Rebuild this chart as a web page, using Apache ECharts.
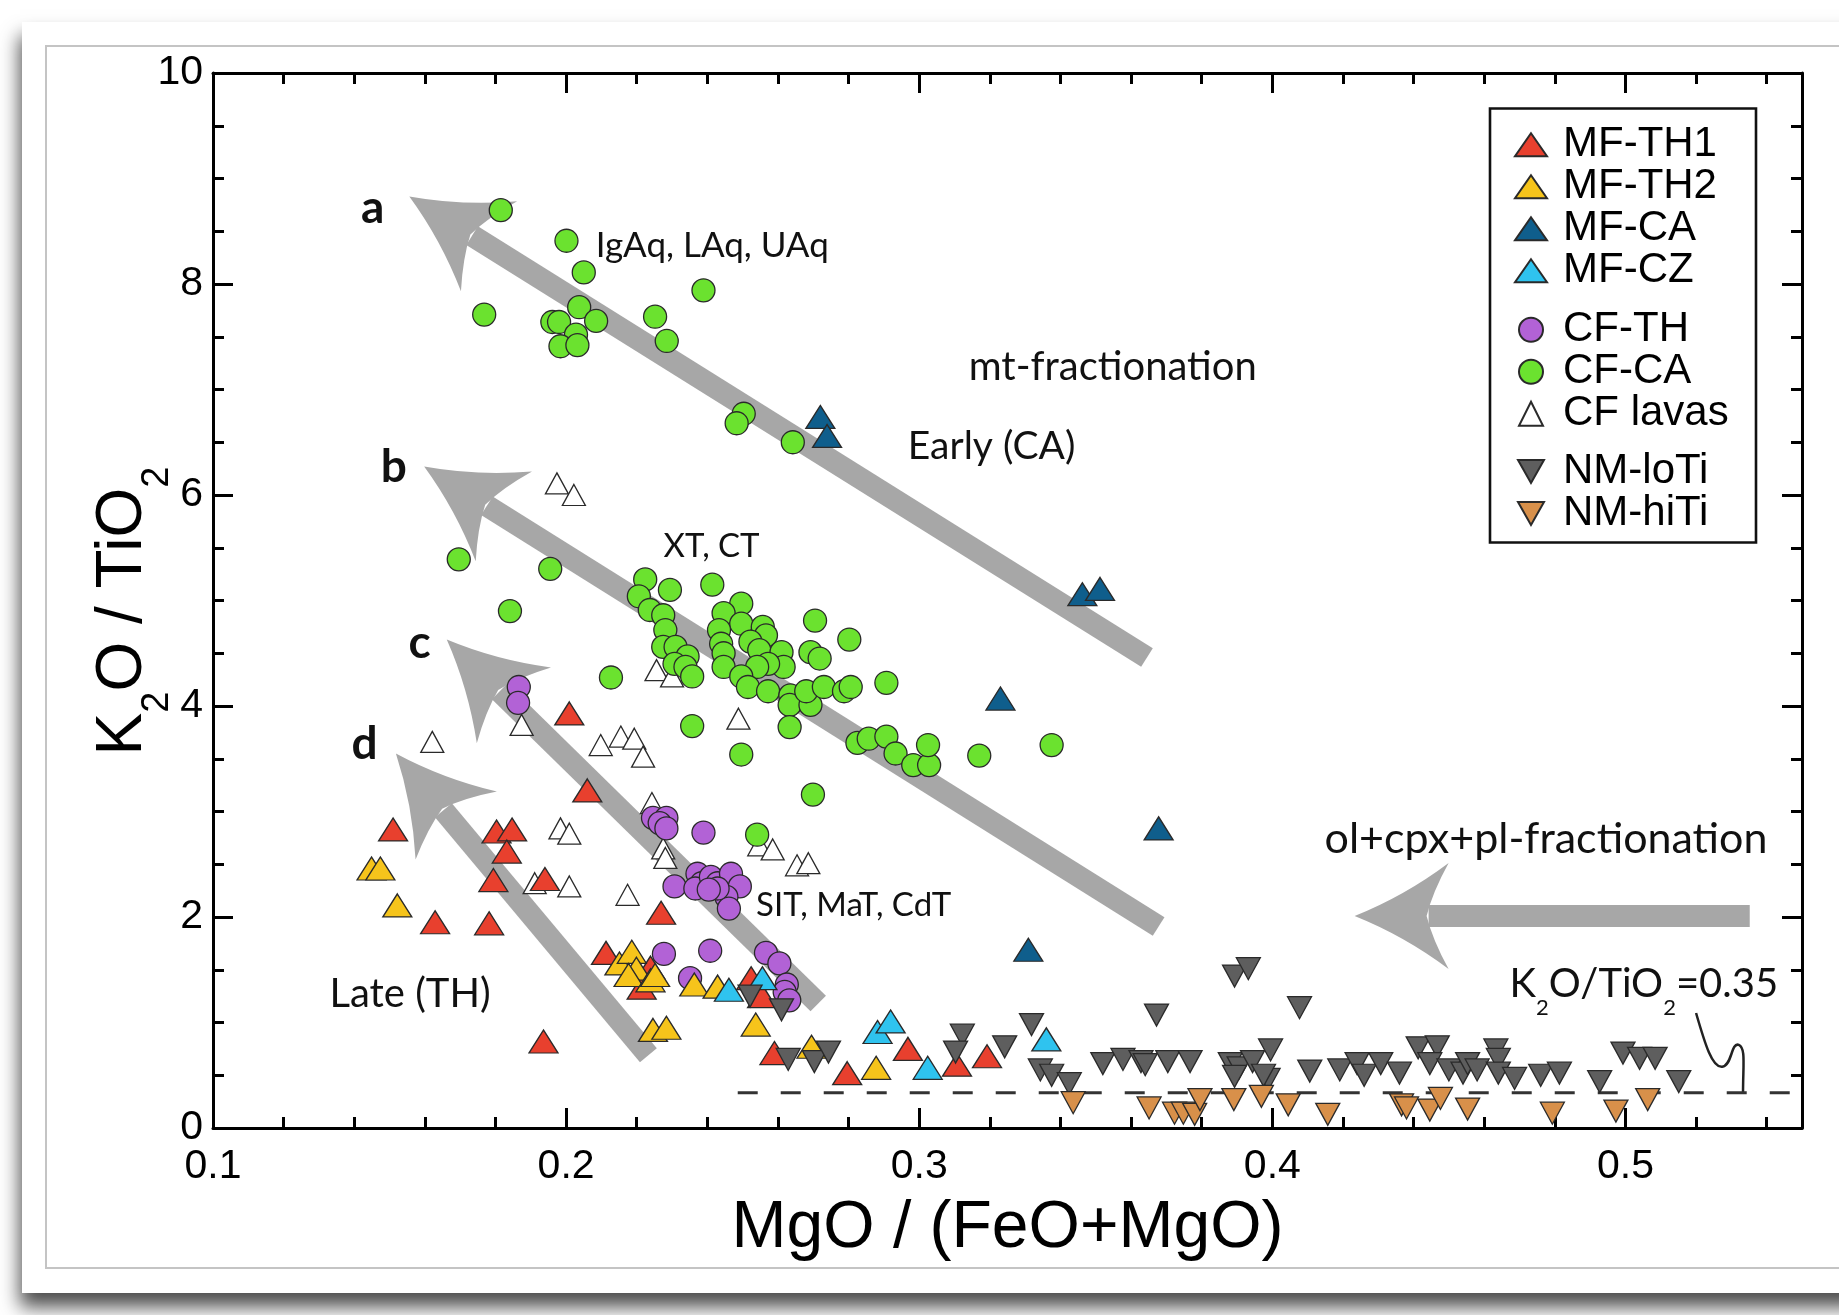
<!DOCTYPE html>
<html><head><meta charset="utf-8">
<script src="https://cdn.jsdelivr.net/npm/echarts@6/dist/echarts.min.js"></script>
<style>html,body{margin:0;padding:0;background:#fff}#c{width:1839px;height:1315px}</style>
</head><body><div id="c"></div>
<script>
// ---------------- data ----------------
const xTickLabels = ['0.1','0.2','0.3','0.4','0.5'];
const yTickLabels = ['0','2','4','6','8','10'];

const mfTH1 = [[0.1510,2.83],[0.2009,3.93],[0.2060,3.20],[0.1803,2.81],[0.1847,2.83],[0.1832,2.62],[0.1794,2.35],[0.1940,2.36],[0.1629,1.95],[0.1782,1.94],[0.2269,2.04],[0.2113,1.66],[0.2239,1.52],[0.2214,1.33],[0.1936,0.82],[0.2524,1.42],[0.2555,1.25],[0.2590,0.71],[0.2796,0.52],[0.2968,0.75],[0.3107,0.60],[0.3192,0.68]];
const mfTH2 = [[0.1449,2.46],[0.1474,2.46],[0.1522,2.11],[0.2151,1.56],[0.2186,1.67],[0.2199,1.51],[0.2177,1.45],[0.2239,1.40],[0.2252,1.45],[0.2246,0.93],[0.2284,0.95],[0.2363,1.36],[0.2429,1.34],[0.2537,0.98],[0.2695,0.77],[0.2878,0.57]];
const mfCA = [[0.2720,6.74],[0.2739,6.56],[0.3462,5.06],[0.3512,5.11],[0.3230,4.07],[0.3678,2.84],[0.3309,1.69]];
const mfCZ = [[0.2461,1.31],[0.2556,1.42],[0.2882,0.91],[0.2919,1.01],[0.3360,0.84],[0.3024,0.57]];
const cfTH = [[0.1866,4.18],[0.1864,4.03],[0.2246,2.94],[0.2284,2.94],[0.2265,2.89],[0.2284,2.84],[0.2389,2.80],[0.2307,2.29],[0.2372,2.41],[0.2384,2.32],[0.2366,2.27],[0.2410,2.38],[0.2429,2.32],[0.2467,2.41],[0.2492,2.29],[0.2454,2.19],[0.2461,2.08],[0.2429,2.27],[0.2404,2.26],[0.2277,1.65],[0.2408,1.68],[0.2566,1.66],[0.2604,1.56],[0.2351,1.42],[0.2625,1.36],[0.2619,1.29],[0.2632,1.21]];
const cfCA = [[0.1815,8.70],[0.2001,8.41],[0.2050,8.11],[0.2389,7.94],[0.1768,7.71],[0.1961,7.64],[0.1980,7.64],[0.2037,7.78],[0.2085,7.65],[0.2252,7.69],[0.2028,7.52],[0.1984,7.41],[0.2032,7.42],[0.2285,7.46],[0.2503,6.77],[0.2483,6.68],[0.2642,6.50],
 [0.1696,5.39],[0.1955,5.30],[0.1841,4.90],[0.2224,5.20],[0.2294,5.10],[0.2414,5.15],[0.2206,5.04],[0.2237,4.91],[0.2275,4.86],[0.2281,4.72],[0.2275,4.56],[0.2310,4.56],[0.2344,4.47],[0.2307,4.40],[0.2338,4.37],[0.2357,4.28],[0.2496,4.97],[0.2446,4.88],[0.2496,4.78],[0.2433,4.72],[0.2439,4.59],[0.2446,4.50],[0.2446,4.37],[0.2557,4.75],[0.2566,4.67],[0.2522,4.61],[0.2547,4.53],[0.2610,4.51],[0.2616,4.37],[0.2572,4.40],[0.2541,4.37],[0.2496,4.28],[0.2515,4.18],[0.2572,4.14],[0.2635,4.10],[0.2633,4.01],[0.2692,4.01],[0.2680,4.14],[0.2730,4.18],[0.2787,4.14],[0.2806,4.18],[0.2692,4.51],[0.2718,4.45],[0.2705,4.81],[0.2802,4.63],[0.2907,4.22],[0.2127,4.27],[0.2357,3.81],[0.2633,3.80],[0.2496,3.54],[0.2825,3.65],[0.2857,3.69],[0.2907,3.71],[0.2933,3.55],[0.2983,3.44],[0.3028,3.44],[0.3025,3.63],[0.3170,3.53],[0.3375,3.63],[0.2699,3.16],[0.2541,2.78]];
const cfLavas = [[0.1974,6.11],[0.2022,6.00],[0.2256,4.34],[0.2300,4.28],[0.2488,3.88],[0.1874,3.82],[0.1621,3.66],[0.2098,3.63],[0.2155,3.71],[0.2193,3.69],[0.2218,3.52],[0.1984,2.84],[0.2009,2.79],[0.2243,3.08],[0.2275,2.65],[0.2281,2.56],[0.2547,2.68],[0.2585,2.64],[0.2654,2.49],[0.2686,2.51],[0.1911,2.32],[0.2009,2.29],[0.2174,2.21]];
const nmLoTi = [[0.2521,1.25],[0.2610,1.12],[0.2629,0.65],[0.2703,0.63],[0.2743,0.72],[0.3122,0.88],[0.3103,0.72],[0.3242,0.77],[0.3318,0.98],[0.3343,0.55],[0.3375,0.50],[0.3425,0.42],[0.3672,1.07],[0.3893,1.44],[0.3932,1.51],[0.4077,1.14],[0.3520,0.61],[0.3577,0.65],[0.3628,0.63],[0.3640,0.60],[0.3704,0.63],[0.3767,0.63],[0.3881,0.61],[0.3906,0.57],[0.3944,0.63],[0.3988,0.46],[0.3995,0.74],[0.3893,0.49],[0.3975,0.50],[0.4106,0.54],[0.4191,0.55],[0.4240,0.61],[0.4260,0.50],[0.4307,0.61],[0.4360,0.52],[0.4413,0.76],[0.4467,0.77],[0.4446,0.61],[0.4500,0.55],[0.4540,0.52],[0.4553,0.61],[0.4580,0.55],[0.4633,0.74],[0.4640,0.65],[0.4640,0.52],[0.4686,0.47],[0.4760,0.50],[0.4813,0.52],[0.4927,0.44],[0.4993,0.71],[0.5040,0.66],[0.5084,0.66],[0.5151,0.44]];
const nmHiTi = [[0.3436,0.24],[0.3651,0.19],[0.3723,0.14],[0.3748,0.14],[0.3780,0.13],[0.3795,0.27],[0.3891,0.27],[0.3969,0.30],[0.4045,0.22],[0.4157,0.13],[0.4366,0.22],[0.4380,0.19],[0.4446,0.17],[0.4476,0.28],[0.4553,0.18],[0.4793,0.14],[0.4973,0.16],[0.5063,0.27]];

// trend arrows: [tailX, tailY, tipX, tipY]
const trendArrows = [[0.3645,4.46,0.1556,8.83],[0.3678,1.91,0.1598,6.27],[0.2714,1.18,0.1662,4.63],[0.2233,0.69,0.1518,3.55],[0.5352,2.01,0.4233,2.01]];
const refLine = [[0.2486,0.335],[0.55,0.335]];
const leaderPts = [[0.5200,1.09],[0.5226,0.788],[0.5246,0.570],[0.5274,0.580],[0.5302,0.589],[0.5299,0.817],[0.5321,0.788],[0.5341,0.760],[0.5333,0.599],[0.5333,0.335]];

const annoText = ['a','b','c','d','IgAq, LAq, UAq','mt-fractionation','Early (CA)','XT, CT','SIT, MaT, CdT','Late (TH)','ol+cpx+pl-fractionation','{n|K}{s|2}{n|O/TiO}{s|2}{n|=0.35}'];
const annoPos = [[0.1452,8.72],[0.1512,6.26],[0.1585,4.60],[0.1429,3.64],[0.2084,8.36],[0.3548,7.21],[0.3205,6.46],[0.2412,5.51],[0.2538,2.11],[0.1558,1.27],[0.4775,2.74],[0.5052,1.36]];

// ---------------- styles ----------------
const annoStyle = [
 {size:46,weight:'bold'},{size:46,weight:'bold'},{size:46,weight:'bold'},{size:46,weight:'bold'},
 {size:35,align:'left'},{size:40},{size:39},{size:33},{size:33,align:'left'},{size:40},{size:43},{size:40,rich:true}
];
const UP = 'triangle';
const DOWN = 'path://M0,0L10,0L5,10Z';
const ANNO_FONT = 'Lato, "Open Sans", sans-serif';
const AX_FONT = '"Liberation Sans", Arial, sans-serif';

const chart = echarts.init(document.getElementById('c'), null, {renderer:'canvas'});

function scatter(name, data, symbol, size, color, z){
  return {name, type:'scatter', data, symbol, symbolSize:size, z,
    itemStyle:{color, borderColor:'#2a2a2a', borderWidth:1.3, opacity:1}, emphasis:{disabled:true}};
}

const axisCommon = {
  type:'value', splitLine:{show:false},
  axisLine:{onZero:false, lineStyle:{color:'#000', width:3}},
  axisTick:{inside:true, length:20, lineStyle:{color:'#000', width:3}},
  minorTick:{show:true, length:11, lineStyle:{color:'#000', width:3}}
};

const option = {
  backgroundColor:'#ffffff',
  animation:false,
  grid:{left:213, right:37, top:73, bottom:187, containLabel:false},
  xAxis:[
    Object.assign({}, axisCommon, {min:0.1, max:0.55, interval:0.1, position:'bottom',
      minorTick:Object.assign({}, axisCommon.minorTick, {splitNumber:5}),
      axisLabel:{show:true, margin:18, fontSize:41, fontFamily:AX_FONT, color:'#000', showMaxLabel:false,
        formatter:(v)=>{const i=Math.round((v-0.1)/0.1); return xTickLabels[i]||'';}},
      name:'MgO / (FeO+MgO)', nameLocation:'middle', nameGap:68,
      nameTextStyle:{fontSize:66, fontFamily:AX_FONT, color:'#000'}}),
    Object.assign({}, axisCommon, {min:0.1, max:0.55, interval:0.1, position:'top',
      minorTick:Object.assign({}, axisCommon.minorTick, {splitNumber:5}), axisLabel:{show:false}})
  ],
  yAxis:[
    Object.assign({}, axisCommon, {min:0, max:10, interval:2, position:'left',
      minorTick:Object.assign({}, axisCommon.minorTick, {splitNumber:4}),
      axisLabel:{show:true, margin:10, fontSize:41, fontFamily:AX_FONT, color:'#000',
        formatter:(v)=>yTickLabels[Math.round(v/2)]||''}}),
    Object.assign({}, axisCommon, {min:0, max:10, interval:2, position:'right',
      minorTick:Object.assign({}, axisCommon.minorTick, {splitNumber:4}), axisLabel:{show:false}})
  ],
  legend:[
    {data:['MF-TH1','MF-TH2','MF-CA','MF-CZ'], orient:'vertical', left:1514, top:123.75, padding:0,
     itemWidth:32, itemHeight:23, itemGap:0, symbolKeepAspect:false, selectedMode:false,
     textStyle:{fontFamily:AX_FONT, fontSize:42, lineHeight:40.5, color:'#000', padding:[0,0,0,11]}},
    {data:['CF-TH','CF-CA','CF lavas'], orient:'vertical', left:1518, top:308.75, padding:0,
     itemWidth:24, itemHeight:24, itemGap:0, symbolKeepAspect:true, selectedMode:false,
     textStyle:{fontFamily:AX_FONT, fontSize:42, lineHeight:40.5, color:'#000', padding:[0,0,0,15]}},
    {data:['NM-loTi','NM-hiTi'], orient:'vertical', left:1517, top:450.5, padding:0,
     itemWidth:26, itemHeight:23, itemGap:0, symbolKeepAspect:false, selectedMode:false,
     textStyle:{fontFamily:AX_FONT, fontSize:42, lineHeight:40.5, color:'#000', padding:[0,0,0,14]}}
  ],
  graphic:[
    {type:'rect', z:-20, silent:true, shape:{x:22,y:22,width:1900,height:1271},
     style:{fill:'#ffffff', shadowBlur:18, shadowColor:'rgba(0,0,0,0.7)', shadowOffsetY:14, shadowOffsetX:-2}},
    {type:'rect', z:-19, silent:true, shape:{x:46,y:46,width:1900,height:1222},
     style:{fill:'none', stroke:'#c4c4c4', lineWidth:2}},
    {type:'rect', z:10, silent:true, shape:{x:1490,y:108.5,width:266,height:434},
     style:{fill:'none', stroke:'#111', lineWidth:2.6}},
    {type:'text', z:10, silent:true, x:123.5, y:611, rotation:Math.PI/2,
     style:{text:'{n|K}{s|2}{n|O / TiO}{s|2}', align:'center', verticalAlign:'middle', fill:'#000',
       rich:{n:{fontSize:64, fontFamily:AX_FONT, lineHeight:64, verticalAlign:'top', fill:'#000'},
             s:{fontSize:38, fontFamily:AX_FONT, lineHeight:38, verticalAlign:'top', padding:[47,0,0,0], fill:'#000'}}}}
  ],
  series:[
    {name:'arrows', type:'custom', data:trendArrows, encode:{x:[0,2], y:[1,3]}, z:1, silent:true,
     renderItem:(params, api)=>{
       const t = api.coord([api.value(0), api.value(1)]);
       const h = api.coord([api.value(2), api.value(3)]);
       const dx=h[0]-t[0], dy=h[1]-t[1], L=Math.hypot(dx,dy);
       const ux=dx/L, uy=dy/L, nx=-uy, ny=ux;
       const P=(a,b)=>[(h[0]-ux*a+nx*b).toFixed(2), (h[1]-uy*a+ny*b).toFixed(2)];
       const tip=P(0,0), b1=P(94,53), b2=P(94,-53), n=P(72,0), c1=P(50,20), c2=P(50,-20), k1=P(78,24), k2=P(78,-24);
       const d='M'+tip.join(' ')+' Q'+c1.join(' ')+' '+b1.join(' ')+' Q'+k1.join(' ')+' '+n.join(' ')+' Q'+k2.join(' ')+' '+b2.join(' ')+' Q'+c2.join(' ')+' '+tip.join(' ')+' Z';
       const e = P(74,0);
       return {type:'group', children:[
         {type:'line', shape:{x1:t[0], y1:t[1], x2:+e[0], y2:+e[1]}, style:{stroke:'#a7a7a7', lineWidth:22, lineCap:'butt'}},
         {type:'path', shape:{pathData:d}, style:{fill:'#a7a7a7'}}
       ]};
     }},
    {name:'ref', type:'line', data:refLine, symbol:'none', z:2, silent:true,
     lineStyle:{color:'#333', width:3, type:[20,23]}},
    {name:'leader', type:'custom', data:[[0]], z:2, silent:true, coordinateSystem:'cartesian2d',
     renderItem:(params, api)=>{
       const p = leaderPts.map(q=>api.coord(q).map(v=>v.toFixed(2)).join(' '));
       const d='M'+p[0]+' C'+p[1]+' '+p[2]+' '+p[3]+' C'+p[4]+' '+p[5]+' '+p[6]+' C'+p[7]+' '+p[8]+' '+p[9];
       return {type:'path', shape:{pathData:d}, style:{fill:'none', stroke:'#222', lineWidth:2.5}};
     }},
    scatter('CF lavas', cfLavas, UP, [23,21], '#ffffff', 3),
    scatter('CF-CA', cfCA, 'circle', 23, '#6be22f', 4),
    scatter('CF-TH', cfTH, 'circle', 23, '#b262d6', 5),
    scatter('MF-TH1', mfTH1, UP, [29,23], '#e8402e', 6),
    scatter('MF-TH2', mfTH2, UP, [29,23], '#f6c41b', 7),
    scatter('MF-CZ', mfCZ, UP, [29,23], '#2fc3ef', 8),
    scatter('MF-CA', mfCA, UP, [29,23], '#0f5e8c', 8),
    scatter('NM-loTi', nmLoTi, DOWN, [24,22], '#5e5e5e', 9),
    scatter('NM-hiTi', nmHiTi, DOWN, [24,22], '#d8904a', 9),
    {name:'annotations', type:'custom', data:annoPos, encode:{x:0,y:1}, z:12, silent:true,
     renderItem:(params, api)=>{
       const i = params.dataIndex, s = annoStyle[i];
       const p = api.coord([api.value(0), api.value(1)]);
       const style = {text:annoText[i], fill:'#111', align:s.align||'center', verticalAlign:'middle',
         fontFamily:ANNO_FONT, fontSize:s.size, fontWeight:s.weight||'normal'};
       if (s.rich) {
         style.rich = {n:{fontSize:s.size, fontFamily:ANNO_FONT, lineHeight:s.size, verticalAlign:'top', fill:'#111'},
                       s:{fontSize:22, fontFamily:ANNO_FONT, lineHeight:22, verticalAlign:'top', padding:[32,0,0,0], fill:'#111'}};
       }
       return {type:'text', x:p[0], y:p[1], style};
     }}
  ]
};
chart.setOption(option);
</script></body></html>
